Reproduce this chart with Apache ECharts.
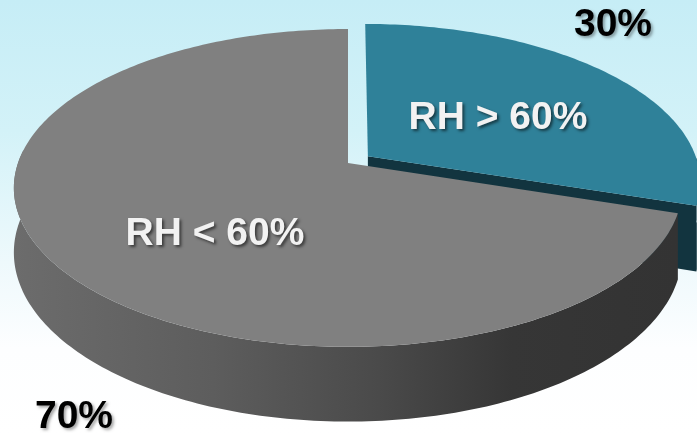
<!DOCTYPE html>
<html>
<head>
<meta charset="utf-8">
<script src="https://cdn.jsdelivr.net/npm/echarts@6/dist/echarts.min.js"></script>
<style>
  html, body { margin: 0; padding: 0; background: #ffffff; }
  #chart { width: 697px; height: 436px; }
</style>
</head>
<body>
<div id="chart"></div>
<script>
// Relative humidity share
const categories = ['RH > 60%', 'RH < 60%'];
const shares = [30, 70];
const percentLabels = ['30%', '70%'];

// Disc geometry for the tilted, extruded pie (angles clockwise from 12 o'clock)
const disc = { cx: 348, cy: 163, rx: 330, ry: 155, persp: 0.157, height: 63 };
const explode = [0.075, 0];

const topColors = ['#2f8199', '#808080'];
const sideColors = [
  '#12343f',
  new echarts.graphic.LinearGradient(0, 0, 1, 0, [
    { offset: 0, color: '#6c6c6c' },
    { offset: 0.3, color: '#5d5d5d' },
    { offset: 0.55, color: '#4a4a4a' },
    { offset: 0.75, color: '#363636' },
    { offset: 1, color: '#333333' }
  ])
];
const edgeColors = ['#12343f', '#3a3a3a'];

// Label anchors (text centres)
const innerLabelPos = [[498, 118], [215, 234]];
const outerLabelPos = [[613, 25], [74, 417]];

const total = shares.reduce((a, b) => a + b, 0);
const rad = d => d * Math.PI / 180;

function project(theta, r, drop, off) {
  const u = r * Math.sin(rad(theta)) + off[0];
  const v = r * Math.cos(rad(theta)) + off[1];
  const f = 1 / (1 + disc.persp * v);
  return [disc.cx + disc.rx * u * f, disc.cy - disc.ry * v * f + disc.height * drop * f];
}

function arc(a0, a1, drop, off) {
  const pts = [];
  const n = Math.max(2, Math.ceil(Math.abs(a1 - a0) / 1));
  for (let i = 0; i <= n; i++) {
    pts.push(project(a0 + (a1 - a0) * i / n, 1, drop, off));
  }
  return pts;
}

function renderItem(params, api) {
  const idx = params.dataIndex;
  const value = api.value(0);
  let before = 0;
  for (let i = 0; i < idx; i++) before += shares[i];
  const start = before / total * 360;
  const end = start + value / total * 360;
  const mid = (start + end) / 2;
  const off = [explode[idx] * Math.sin(rad(mid)), explode[idx] * Math.cos(rad(mid))];
  const children = [];
  const base = idx * 10;

  // outer wall, front half only
  const w0 = Math.max(start, 90), w1 = Math.min(end, 275);
  if (w1 > w0) {
    const pts = arc(w0, w1, 0, off).concat(arc(w1, w0, 1, off));
    children.push({
      type: 'polygon', z2: base + 1,
      shape: { points: pts },
      style: { fill: sideColors[idx], stroke: null }
    });
  }

  // radial cut faces turned toward the viewer
  [[end, end + 90], [start, start - 90]].forEach(([a, n]) => {
    if (Math.cos(rad(n)) < -0.05) {
      const c0 = project(0, 0, 0, off), c1 = project(0, 0, 1, off);
      const r0 = project(a, 1, 0, off), r1 = project(a, 1, 1, off);
      children.push({
        type: 'polygon', z2: base + 2,
        shape: { points: [c0, r0, r1, c1] },
        style: { fill: edgeColors[idx] }
      });
    }
  });

  // top face
  const topPts = [project(0, 0, 0, off)].concat(arc(start, end, 0, off));
  children.push({
    type: 'polygon', z2: base + 3,
    shape: { points: topPts },
    style: { fill: topColors[idx] }
  });

  // category label on the slice
  children.push({
    type: 'text', z2: 100,
    x: innerLabelPos[idx][0], y: innerLabelPos[idx][1],
    style: {
      text: categories[idx],
      fill: '#f2f2f2',
      font: 'bold 39px "Liberation Sans", Arial, sans-serif',
      align: 'center', verticalAlign: 'middle',
      textShadowColor: 'rgba(0,0,0,0.55)', textShadowBlur: 3,
      textShadowOffsetX: 2, textShadowOffsetY: 2
    }
  });

  // share label outside the disc
  children.push({
    type: 'text', z2: 100,
    x: outerLabelPos[idx][0], y: outerLabelPos[idx][1],
    style: {
      text: percentLabels[idx],
      fill: '#000000',
      font: 'bold 39px "Liberation Sans", Arial, sans-serif',
      align: 'center', verticalAlign: 'middle',
      textShadowColor: 'rgba(0,0,0,0.35)', textShadowBlur: 3,
      textShadowOffsetX: 2, textShadowOffsetY: 2
    }
  });

  return { type: 'group', children };
}

const chart = echarts.init(document.getElementById('chart'), null, { renderer: 'canvas' });
chart.setOption({
  animation: false,
  backgroundColor: new echarts.graphic.LinearGradient(0, 0, 0, 1, [
    { offset: 0, color: '#c6edf6' },
    { offset: 0.3, color: '#d3f2f8' },
    { offset: 0.6, color: '#eef9fc' },
    { offset: 0.8, color: '#fdfeff' },
    { offset: 1, color: '#ffffff' }
  ]),
  series: [{
    type: 'custom',
    coordinateSystem: 'none',
    renderItem: renderItem,
    data: categories.map((name, i) => ({ name, value: [shares[i]] }))
  }]
});
</script>
</body>
</html>
